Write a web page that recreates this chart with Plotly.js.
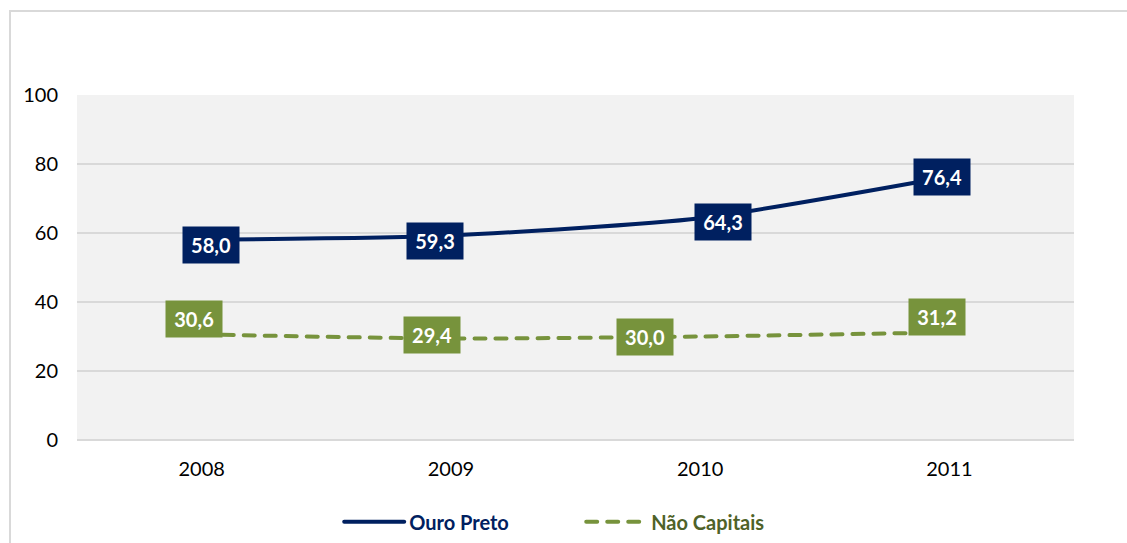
<!DOCTYPE html>
<html>
<head>
<meta charset="utf-8">
<script src="https://cdn.plot.ly/plotly-3.0.1.min.js"></script>
<style>
  html, body { margin: 0; padding: 0; background: #ffffff; }
  #frame { position: absolute; left: 9px; top: 10px; width: 1130px; height: 560px;
           border-left: 2px solid #d9d9d9; border-top: 2px solid #d9d9d9; box-sizing: border-box; }
  #chart { position: absolute; left: 0; top: 0; width: 1127px; height: 543px; }
</style>
</head>
<body>
<div id="frame"></div>
<div id="chart"></div>
<script>
// ---- data ----
const years = ["2008", "2009", "2010", "2011"];
const ouroPreto = [58.0, 59.3, 64.3, 76.4];
const naoCapitais = [30.6, 29.4, 30.0, 31.2];
const seriesNames = ["Ouro Preto", "Não Capitais"];
const yTicks = [0, 20, 40, 60, 80, 100];

// ---- style ----
const navy = "#002060";
const green = "#77933C";
const greenText = "#4F6228";
const fontFam = "Lato, 'Open Sans', sans-serif";
// label offsets (px: right, up) to mimic the manual label placement
const opShift = [[9, -5], [-16, -6], [23, -4], [-7, -1]];
const ncShift = [[-8, 15], [-19, 4], [-55, 0], [-12, 15]];

const fmt = v => v.toFixed(1).replace(".", ",");

const traces = [
  {
    x: years, y: ouroPreto, name: seriesNames[0], type: "scatter", mode: "lines",
    line: { color: navy, width: 4, shape: "spline", smoothing: 0.6 },
    hoverinfo: "skip"
  },
  {
    x: years, y: naoCapitais, name: seriesNames[1], type: "scatter", mode: "lines",
    line: { color: green, width: 4, dash: "11px,10px", shape: "spline", smoothing: 0.6 },
    hoverinfo: "skip"
  }
];

const annotations = [];
years.forEach((yr, i) => {
  annotations.push({
    x: i, y: ouroPreto[i], xref: "x", yref: "y", text: "<b>" + fmt(ouroPreto[i]) + "</b>",
    showarrow: false, bgcolor: navy, font: { color: "#ffffff", size: 20, family: fontFam },
    width: 50, height: 30, borderpad: 3, xshift: opShift[i][0], yshift: opShift[i][1]
  });
  annotations.push({
    x: i, y: naoCapitais[i], xref: "x", yref: "y", text: "<b>" + fmt(naoCapitais[i]) + "</b>",
    showarrow: false, bgcolor: green, font: { color: "#ffffff", size: 20, family: fontFam },
    width: 50, height: 30, borderpad: 3, xshift: ncShift[i][0], yshift: ncShift[i][1]
  });
});

const layout = {
  width: 1127, height: 543,
  margin: { l: 77, r: 53, t: 95, b: 103 },
  paper_bgcolor: "rgba(0,0,0,0)",
  plot_bgcolor: "#f2f2f2",
  font: { family: fontFam, size: 20, color: "#000000" },
  showlegend: true,
  legend: {
    orientation: "h", x: 0.263, xanchor: "left", xref: "paper",
    y: 0.039, yanchor: "middle", yref: "container",
    itemwidth: 60, entrywidth: 167, font: { size: 20, family: fontFam },
    bgcolor: "rgba(0,0,0,0)", traceorder: "normal", itemclick: false
  },
  xaxis: {
    type: "category", range: [-0.5, 3.5], showgrid: false, zeroline: false,
    showline: false, ticks: "", ticklabelstandoff: 15,
    tickfont: { size: 20, family: fontFam, color: "#000" }, fixedrange: true
  },
  yaxis: {
    range: [0, 100], tickvals: yTicks, ticktext: yTicks.map(String),
    showgrid: true, gridcolor: "#d9d9d9", gridwidth: 1.5,
    zeroline: true, zerolinecolor: "#d9d9d9", zerolinewidth: 1.5,
    showline: false, ticks: "", ticklabelstandoff: 18,
    tickfont: { size: 20, family: fontFam, color: "#000" }, fixedrange: true
  },
  annotations: annotations
};

Plotly.newPlot("chart", traces, layout, { displayModeBar: false, staticPlot: true }).then(() => {
  const texts = document.querySelectorAll(".legendtext");
  const cols = [navy, greenText];
  texts.forEach((t, i) => {
    t.style.fill = cols[i];
    t.style.fontWeight = "bold";
  });
  document.querySelectorAll(".scatterlayer .js-line, .legend .js-line").forEach(p => {
    p.style.strokeLinecap = "round";
  });
});
</script>
</body>
</html>
